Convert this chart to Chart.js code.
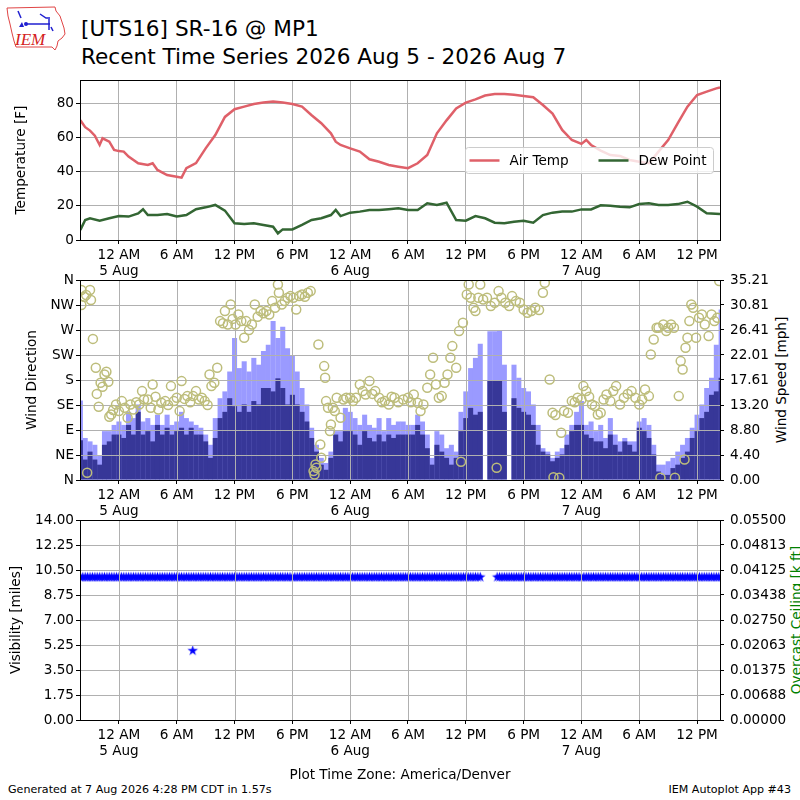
<!DOCTYPE html>
<html>
<head>
<meta charset="utf-8">
<script src="https://cdn.jsdelivr.net/npm/chart.js@4.4.1/dist/chart.umd.min.js"></script>
<style>
html,body{margin:0;padding:0;background:#fff;}
#page{position:relative;width:800px;height:800px;overflow:hidden;background:#fff;font-family:'DejaVu Sans',sans-serif;color:#000;}
canvas{position:absolute;left:0;top:0;}
.txt{position:absolute;white-space:nowrap;line-height:1;}
.rot{position:absolute;white-space:nowrap;line-height:1;transform:translate(-50%,-50%) rotate(-90deg);}
</style>
</head>
<body>
<div id="page">
<svg style="position:absolute;left:0;top:0" width="80" height="60" viewBox="0 0 80 60">
  <path d="M7,8 L55,7 L56,11 L60,16 L62,22 L64,28 L65,34 L62,38 L58,41 L57,46 L55,50 L52,47 L16,47 L14,41 L12,33 L10,24 L8,16 Z" fill="none" stroke="#e04545" stroke-width="1"/>
  <text x="15" y="45" font-family="'Liberation Serif','DejaVu Serif',serif" font-style="italic" font-size="17" fill="#d42020">IEM</text>
  <g stroke="#1f1fd0" stroke-width="1.5" fill="none">
    <path d="M18,11 L21,18"/>
    <path d="M25,24 L50,24"/>
    <path d="M40,14 L46,18 L50,18"/>
    <path d="M49,19 L49,30"/>
    <path d="M51,27 L53,31"/>
  </g>
  <path d="M19,27 L22,22 L24,27 Z" fill="#1f1fd0"/>
  <circle cx="26" cy="24" r="2" fill="#1f1fd0"/>
</svg>
<div class="txt" style="left:81px;top:17.7px;font-size:21.6px">[UTS16] SR-16 @ MP1</div>
<div class="txt" style="left:81px;top:45.7px;font-size:21.6px">Recent Time Series 2026 Aug 5 - 2026 Aug 7</div>
<div class="rot" style="left:782px;top:380px;font-size:13.6px">Wind Speed [mph]</div>
<div class="rot" style="left:797px;top:620px;font-size:13.6px;color:#008000">Overcast Ceiling [k ft]</div>
<div class="txt" style="left:8px;top:783.6px;font-size:11.1px">Generated at 7 Aug 2026 4:28 PM CDT in 1.57s</div>
<div class="txt" style="right:9px;top:783.6px;font-size:11.1px">IEM Autoplot App #43</div>
<canvas id="cTemp" width="800" height="800"></canvas>
<canvas id="cWind" width="800" height="800"></canvas>
<canvas id="cVis" width="800" height="800"></canvas>
</div>
<script>
// ---------------- DATA ----------------
// hours relative to 12 AM 5 Aug (America/Denver)
const X_MIN = -4.04, X_MAX = 62.38;
const xTickHours = [0, 6, 12, 18, 24, 30, 36, 42, 48, 54, 60];
const xTickLabels = [['12 AM','5 Aug'],'6 AM','12 PM','6 PM',['12 AM','6 Aug'],'6 AM','12 PM','6 PM',['12 AM','7 Aug'],'6 AM','12 PM'];

const tempTicks = [0, 20, 40, 60, 80];
const tempTickLabels = ['0', '20', '40', '60', '80'];
const tempHours = [-4,-3.5,-3,-2.5,-2,-1.7,-1,-0.5,0,0.5,1,2,3,3.5,4,5,6,6.5,7,8,9,10,11,12,13,14,15,16,17,18,19,20,21,22,22.5,23,24,25,26,27,28,29,30,31,32,33,34,35,36,37,38,39,40,41,42,43,44,45,46,47,48,48.5,49,50,51,52,53,54,55,56,57,58,59,60,61,62,62.38];
const airTemp = [70,66,64,61,55.6,59.5,57.5,52.7,52,51.7,48.8,44.9,43.9,44.9,41,38,37,36.5,42,45,53.6,61.4,72,76.5,78,79.6,80.4,81,80.4,79.6,78,73,68.3,62.4,57.5,55.6,53.6,51.7,47.2,45.8,43.9,42.9,42,44.9,49.7,62.4,70,77,80.4,82.3,84.5,85.4,85.4,85,84.3,83.5,79,74,64.4,58.5,56.2,58.5,55.6,52.3,49.7,49.2,46.8,45.8,44.9,51.7,58.5,68.3,78,84.8,86.8,88.7,89.3];
const dewHours = [-4,-3.5,-3,-2,-1,0,1,2,2.5,3,4,5,6,7,8,9,10,11,12,13,14,15,16,16.5,17,18,19,20,21,22,22.5,23,24,25,26,27,28,29,30,31,32,33,34,35,36,37,38,39,40,41,42,43,44,45,46,47,48,49,50,51,52,53,54,55,56,57,58,59,60,61,62.38];
const dewPoint = [5.9,11.7,12.7,11.3,12.7,14,13.7,15.6,18,14.6,14.6,15.2,13.7,14.6,18,19.1,20.5,17.2,9.8,9.4,9.8,8.8,7.8,3.9,6.2,6.2,8.8,11.7,12.7,14.6,17.6,14,16,16.6,17.6,17.6,18,18.5,17.6,17.6,21.5,20.5,21.8,11.7,11.3,14,12.7,10.1,9.8,10.7,11.3,10.1,14.6,16,16.6,16.6,17.9,17.9,20.3,20.1,19.5,19.1,21,21.5,20.5,20.5,21,22.4,19.5,15.6,15.2];

// wind observations on a half-hour grid starting at WIND_START
const WIND_START = -4, WIND_STEP = 0.5;
const windSpeed = [
 7.0,3.6,5.0,3.6,2.7,6.2,6.8,8.0,8.0,7.4,
 9.7,8.0,12.0,8.0,8.6,6.8,9.7,8.0,9.2,8.0,
 8.6,9.2,8.0,9.2,8.0,8.0,6.8,3.9,7.4,10.9,
 12.0,14.4,13.0,12.0,13.3,12.0,13.9,13.3,16.2,16.2,
 15.6,17.9,16.2,13.3,15.0,13.3,12.0,10.3,7.4,5.0,
 2.7,1.8,3.9,8.0,6.8,8.6,8.6,8.0,6.2,8.6,
 7.4,6.8,8.0,6.8,8.0,7.4,8.0,8.0,8.0,8.0,
 9.7,8.0,5.6,2.7,6.2,5.0,3.9,2.7,3.9,8.6,
 10.9,12.7,11.5,12.0,null,17.5,17.5,17.5,12.0,null,
 14.4,12.7,12.0,11.5,9.7,6.2,5.0,4.5,3.3,3.9,
 4.5,6.2,8.6,9.7,9.7,8.0,7.4,6.8,6.8,5.6,
 8.0,6.2,5.0,6.8,6.2,5.0,9.2,8.6,7.4,4.5,
 1.5,0.9,0.9,2.1,2.7,3.9,5.0,7.4,8.6,10.9,
 12.0,15.0,15.6,18.0];
const windGust = [
 14.0,7.4,6.8,6.2,4.4,8.6,8.6,9.7,10.3,9.7,
 12.0,10.9,13.3,10.3,10.9,9.7,11.5,9.7,11.5,9.7,
 10.3,12.0,10.9,10.3,9.7,9.2,8.0,6.2,10.9,14.4,
 15.6,19.1,25.0,19.7,20.9,19.1,21.5,20.3,22.7,23.8,
 28.0,25.0,27.0,23.2,22.0,19.1,16.2,13.3,9.2,6.2,
 3.9,3.0,5.0,8.6,8.6,12.7,12.0,10.9,9.7,11.5,
 9.7,9.2,10.9,8.6,10.9,9.7,10.3,10.3,9.7,9.7,
 11.5,10.3,8.0,3.9,8.6,8.0,5.6,6.2,5.0,12.0,
 15.6,19.7,21.5,24.0,null,26.2,26.2,26.4,20.3,null,
 20.3,18.0,16.2,15.6,13.3,9.7,5.6,5.0,3.9,5.0,
 5.6,8.0,9.7,12.0,13.9,9.7,10.3,8.6,9.7,7.4,
 10.9,8.0,6.8,7.4,6.8,6.8,10.3,10.9,9.7,6.2,
 2.7,2.7,3.3,3.9,5.0,6.2,7.4,9.2,11.5,13.3,
 16.2,18.0,23.8,30.0];
const windSpeedTicks = [0, 4.40, 8.80, 13.20, 17.61, 22.01, 26.41, 30.81, 35.21];
const windSpeedTickLabels = ['0.00','4.40','8.80','13.20','17.61','22.01','26.41','30.81','35.21'];
const dirTicks = [0, 45, 90, 135, 180, 225, 270, 315, 360];
const dirTickLabels = ['N','NE','E','SE','S','SW','W','NW','N'];
const dirHours = [-3.9,-3.9,-3.6,-3.4,-3.3,-3.0,-2.9,-2.7,-2.4,-2.3,
 -2.1,-1.9,-1.7,-1.5,-1.3,-1.1,-1.0,-0.8,-0.6,-0.3,
 0.0,0.3,0.6,0.9,1.2,1.5,1.8,2.1,2.4,2.6,
 3.0,3.3,3.5,3.8,4.1,4.4,4.8,5.1,5.4,5.7,
 6.0,6.3,6.5,6.8,7.1,7.4,7.7,8.0,8.3,8.6,
 8.9,9.2,9.4,9.6,9.9,10.2,10.5,10.8,11.0,11.3,
 11.6,11.8,12.1,12.4,12.7,13.0,13.2,13.5,13.8,14.1,
 14.4,14.7,15.0,15.3,15.6,15.9,16.2,16.5,16.6,16.9,
 17.2,17.5,17.8,18.1,18.4,18.7,19.0,19.3,19.6,19.9,
 20.2,20.3,20.4,20.5,20.7,20.9,21.0,21.3,21.4,21.5,
 21.7,21.9,22.0,22.2,22.4,22.6,23.0,23.3,23.6,24.0,
 24.3,24.6,25.0,25.3,25.6,26.0,26.3,26.6,27.0,27.3,
 27.6,28.0,28.3,28.6,29.0,29.5,30.0,30.3,30.6,31.0,
 31.3,31.6,32.0,32.3,32.6,32.9,33.2,33.5,33.8,34.1,
 34.4,34.6,35.0,35.3,35.5,35.7,36.1,36.3,36.5,36.8,
 37.0,37.3,37.5,37.8,38.2,38.6,39.0,39.2,39.4,39.7,
 40.1,40.5,40.8,41.2,41.6,42.0,42.4,42.8,43.2,43.6,
 44.0,44.2,44.7,45.0,45.1,45.3,45.7,45.9,46.2,46.6,
 47.0,47.3,47.6,48.0,48.2,48.5,48.8,49.1,49.4,49.7,
 50.0,50.3,50.6,51.0,51.3,51.6,52.0,52.4,52.8,53.2,
 53.6,54.0,54.3,54.6,55.0,55.2,55.5,55.8,56.0,56.2,
 56.5,56.8,57.0,57.3,57.6,57.7,58.1,58.3,58.5,58.7,
 58.8,59.0,59.2,59.4,59.6,59.9,60.2,60.5,60.8,61.2,
 61.5,61.8,62.1,62.3];
const dirDegrees = [342,315,330,333,13,342,324,254,202,155,
 132,175,168,190,195,177,114,118,126,136,
 124,142,130,112,136,127,140,136,160,145,
 145,130,172,150,127,139,142,135,169,142,
 148,124,178,146,151,140,151,160,145,148,
 142,135,190,169,175,202,286,282,304,280,
 316,290,280,298,286,256,286,270,280,316,
 294,304,300,304,298,322,310,352,337,316,
 322,328,331,328,307,331,334,330,337,340,
 16,10,28,22,244,64,40,205,184,142,
 130,88,100,130,124,148,112,145,148,148,
 142,148,172,160,154,178,155,160,148,140,
 142,136,150,148,140,145,148,140,154,139,
 124,136,166,190,220,172,148,151,175,190,
 220,241,202,268,33,283,334,352,328,310,
 304,328,352,325,328,313,319,22,340,328,
 319,313,331,322,319,307,301,304,310,306,
 337,355,181,121,5,117,4,85,124,121,
 142,140,148,145,169,160,150,136,133,118,
 121,145,154,142,160,169,136,148,155,160,
 148,136,145,163,151,226,253,274,274,4,
 280,268,274,280,274,4,151,214,199,37,
 238,256,286,316,310,256,292,298,280,259,
 298,286,292,358];

// visibility [miles] on a quarter-hour grid starting at VIS_START
const VIS_START = -4, VIS_STEP = 0.25;
const visValues = [
 10,10,10,10,10,10,10,10,10,10,
 10,10,10,10,10,10,10,10,10,10,
 10,10,10,10,10,10,10,10,10,10,
 10,10,10,10,10,10,10,10,10,10,
 10,10,10,10,10,10,10,10,10,10,
 10,10,10,10,10,10,10,10,10,10,
 10,10,10,10,10,10,10,10,10,10,
 10,10,10,10,10,10,10,10,10,10,
 10,10,10,10,10,10,10,10,10,10,
 10,10,10,10,10,10,10,10,10,10,
 10,10,10,10,10,10,10,10,10,10,
 10,10,10,10,10,10,10,10,10,10,
 10,10,10,10,10,10,10,10,10,10,
 10,10,10,10,10,10,10,10,10,10,
 10,10,10,10,10,10,10,10,10,10,
 10,10,10,10,10,10,10,10,10,10,
 10,10,10,10,10,10,10,null,null,null,
 null,null,null,10,10,10,10,10,10,10,
 10,10,10,10,10,10,10,10,10,10,
 10,10,10,10,10,10,10,10,10,10,
 10,10,10,10,10,10,10,10,10,10,
 10,10,10,10,10,10,10,10,10,10,
 10,10,10,10,10,10,10,10,10,10,
 10,10,10,10,10,10,10,10,10,10,
 10,10,10,10,10,10,10,10,10,10,
 10,10,10,10,10,10,10,10,10,10,
 10,10,10,10,10,10,10];
const lowVisHours = [7.66];
const lowVisValues = [4.85];
const visTicks = [0, 1.75, 3.5, 5.25, 7, 8.75, 10.5, 12.25, 14];
const visTickLabels = ['0.00','1.75','3.50','5.25','7.00','8.75','10.50','12.25','14.00'];
const ceilTicks = [0, 0.00688, 0.01375, 0.02063, 0.0275, 0.03438, 0.04125, 0.04813, 0.055];
const ceilTickLabels = ['0.00000','0.00688','0.01375','0.02063','0.02750','0.03438','0.04125','0.04813','0.05500'];

// ---------------- STYLE / HELPERS ----------------
const FONT = {family: "'DejaVu Sans', sans-serif", size: 13.6};
const GRID = '#b0b0b0';
const C_AIR = '#df6069', C_DEW = '#336633';
const C_SPD = '#373798', C_GUST = '#9a9aff', C_DIR = '#bdbd7b', C_VIS = '#0000ff';
Chart.defaults.font.family = FONT.family;
Chart.defaults.font.size = FONT.size;
Chart.defaults.color = '#000';

function xAxis(height, onArea, title, titlePad) {
  return {
    type: 'linear', min: X_MIN, max: X_MAX, offset: false,
    afterBuildTicks: s => { s.ticks = xTickHours.map(v => ({value: v})); },
    afterFit: s => { s.height = height; s.paddingLeft = 0; s.paddingRight = 0; },
    ticks: {autoSkip: false, maxRotation: 0, minRotation: 0, padding: 3, color: '#000', font: FONT,
            callback: (v, i) => xTickLabels[i]},
    grid: {offset: false, color: GRID, lineWidth: 1, tickColor: '#000', tickLength: 4, drawOnChartArea: onArea},
    border: {display: false},
    title: title ? {display: true, text: title, color: '#000', font: FONT, padding: {top: 0, bottom: titlePad}} : {display: false}
  };
}
function yAxis(o) {
  return {
    type: 'linear', position: o.position || 'left', min: o.min, max: o.max,
    afterBuildTicks: s => { s.ticks = o.ticks.map(v => ({value: v})); },
    afterFit: s => { s.width = o.width; s.paddingTop = 0; s.paddingBottom = 0; },
    ticks: {padding: o.pad, color: '#000', font: FONT, callback: (v, i) => o.labels[i]},
    grid: {color: GRID, lineWidth: 1, tickColor: '#000', tickLength: 4, drawOnChartArea: o.onArea},
    border: {display: false},
    title: o.title ? {display: true, text: o.title, color: '#000', font: FONT, padding: {top: o.titlePad, bottom: 0}} : {display: false}
  };
}
function pts(xs, ys) { return xs.map((x, i) => ({x: x, y: ys[i]})); }
function gridPts(start, step, ys) { return ys.map((y, i) => ({x: start + i * step, y: y})); }

const framePlugin = {
  id: 'frame',
  afterDraw(chart) {
    const {ctx, chartArea: a} = chart;
    ctx.save();
    ctx.strokeStyle = '#000'; ctx.lineWidth = 1;
    ctx.strokeRect(a.left + 0.5, a.top + 0.5, a.right - a.left, a.bottom - a.top);
    ctx.restore();
  }
};
function drawGridLines(chart) {
  const {ctx, chartArea: a, scales} = chart;
  ctx.save();
  ctx.beginPath(); ctx.rect(a.left, a.top, a.right - a.left, a.bottom - a.top); ctx.clip();
  ctx.strokeStyle = GRID; ctx.lineWidth = 1;
  ctx.beginPath();
  scales.x.ticks.forEach(t => { const p = Math.round(scales.x.getPixelForValue(t.value)) + 0.5; ctx.moveTo(p, a.top); ctx.lineTo(p, a.bottom); });
  scales.y.ticks.forEach(t => { const p = Math.round(scales.y.getPixelForValue(t.value)) + 0.5; ctx.moveTo(a.left, p); ctx.lineTo(a.right, p); });
  ctx.stroke();
  ctx.restore();
}
const gridOverPlugin = {
  id: 'gridOver',
  afterDatasetDraw(chart, args, opts) { if (opts && opts.afterIndex === args.index) drawGridLines(chart); }
};
const tempLegendPlugin = {
  id: 'tempLegend',
  afterDatasetsDraw(chart) {
    const {ctx, chartArea: a} = chart;
    const ds = chart.data.datasets;
    const w = 248, h = 26, r = 3;
    const x0 = a.right - 7 - w + 0.5, y0 = a.top + 67.5;
    ctx.save();
    ctx.beginPath();
    ctx.moveTo(x0 + r, y0); ctx.lineTo(x0 + w - r, y0); ctx.arcTo(x0 + w, y0, x0 + w, y0 + r, r);
    ctx.lineTo(x0 + w, y0 + h - r); ctx.arcTo(x0 + w, y0 + h, x0 + w - r, y0 + h, r);
    ctx.lineTo(x0 + r, y0 + h); ctx.arcTo(x0, y0 + h, x0, y0 + h - r, r);
    ctx.lineTo(x0, y0 + r); ctx.arcTo(x0, y0, x0 + r, y0, r); ctx.closePath();
    ctx.fillStyle = 'rgba(255,255,255,0.8)'; ctx.fill();
    ctx.strokeStyle = '#cccccc'; ctx.lineWidth = 1; ctx.stroke();
    const cy = y0 + h / 2;
    const items = [{d: ds[0], lx: x0 + 4}, {d: ds[1], lx: x0 + 133}];
    ctx.font = FONT.size + 'px ' + FONT.family;
    ctx.textBaseline = 'middle'; ctx.textAlign = 'left'; ctx.fillStyle = '#000';
    items.forEach(it => {
      ctx.strokeStyle = it.d.borderColor; ctx.lineWidth = 2.5;
      ctx.beginPath(); ctx.moveTo(it.lx, cy); ctx.lineTo(it.lx + 30, cy); ctx.stroke();
      ctx.fillText(it.d.label, it.lx + 40, cy + 0.5);
    });
    ctx.restore();
  }
};

// star marker image
function makeStar(R, color) {
  const c = document.createElement('canvas');
  const S = Math.ceil(2 * R + 2);
  c.width = S; c.height = S;
  const g = c.getContext('2d');
  const cx = S / 2, cy = S / 2, ri = R * 0.382;
  g.beginPath();
  for (let k = 0; k < 10; k++) {
    const ang = -Math.PI / 2 + k * Math.PI / 5;
    const rr = (k % 2 === 0) ? R : ri;
    const px = cx + rr * Math.cos(ang), py = cy + rr * Math.sin(ang);
    if (k === 0) g.moveTo(px, py); else g.lineTo(px, py);
  }
  g.closePath();
  g.fillStyle = color; g.fill();
  return c;
}
const starImg = makeStar(5.5, C_VIS);

// ---------------- TEMPERATURE ----------------
new Chart(document.getElementById('cTemp'), {
  type: 'line',
  data: {datasets: [
    {label: 'Air Temp', data: pts(tempHours, airTemp), borderColor: C_AIR, borderWidth: 2.5, pointRadius: 0, tension: 0, fill: false},
    {label: 'Dew Point', data: pts(dewHours, dewPoint), borderColor: C_DEW, borderWidth: 2.5, pointRadius: 0, tension: 0, fill: false}
  ]},
  options: {
    responsive: false, animation: false, events: [],
    layout: {padding: {top: 80, left: 0, right: 80, bottom: 520}},
    plugins: {legend: {display: false}, tooltip: {enabled: false}},
    scales: {
      x: xAxis(40, true),
      y: yAxis({min: 0, max: 93.6, ticks: tempTicks, labels: tempTickLabels, width: 80, pad: 2, onArea: true,
                title: 'Temperature [F]', titlePad: 13.8})
    }
  },
  plugins: [framePlugin, tempLegendPlugin]
});

// ---------------- WIND ----------------
new Chart(document.getElementById('cWind'), {
  type: 'bar',
  data: {datasets: [
    {type: 'line', label: 'Wind Direction', data: pts(dirHours, dirDegrees), yAxisID: 'y', showLine: false,
     pointStyle: 'circle', pointRadius: 4.5, pointBorderWidth: 1.5, pointBackgroundColor: 'rgba(0,0,0,0)',
     pointBorderColor: C_DIR, borderColor: C_DIR, order: 0},
    {type: 'bar', label: 'Wind Speed', data: gridPts(WIND_START, WIND_STEP, windSpeed), yAxisID: 'y2',
     backgroundColor: C_SPD, borderWidth: 0, grouped: false, barPercentage: 1.05, categoryPercentage: 1, order: 1},
    {type: 'bar', label: 'Wind Gust', data: gridPts(WIND_START, WIND_STEP, windGust), yAxisID: 'y2',
     backgroundColor: C_GUST, borderWidth: 0, grouped: false, barPercentage: 1.05, categoryPercentage: 1, order: 2}
  ]},
  options: {
    responsive: false, animation: false, events: [],
    layout: {padding: {top: 280, left: 0, right: 0, bottom: 280}},
    plugins: {legend: {display: false}, tooltip: {enabled: false}, gridOver: {afterIndex: 1}},
    scales: {
      x: xAxis(40, false),
      y: yAxis({min: 0, max: 360, ticks: dirTicks, labels: dirTickLabels, width: 80, pad: 2, onArea: false,
                title: 'Wind Direction', titlePad: 24}),
      y2: yAxis({position: 'right', min: 0, max: 35.21, ticks: windSpeedTicks, labels: windSpeedTickLabels,
                 width: 80, pad: 6, onArea: false})
    }
  },
  plugins: [gridOverPlugin, framePlugin]
});

// ---------------- VISIBILITY ----------------
new Chart(document.getElementById('cVis'), {
  type: 'scatter',
  data: {datasets: [
    {label: 'Visibility', data: gridPts(VIS_START, VIS_STEP, visValues).concat(pts(lowVisHours, lowVisValues)),
     yAxisID: 'y', pointStyle: starImg, pointRadius: 5, borderWidth: 0, order: 0}
  ]},
  options: {
    responsive: false, animation: false, events: [],
    layout: {padding: {top: 520, left: 0, right: 0, bottom: 10}},
    plugins: {legend: {display: false}, tooltip: {enabled: false}, gridOver: {afterIndex: 0}},
    scales: {
      x: xAxis(70, false, 'Plot Time Zone: America/Denver', 6.8),
      y: yAxis({min: 0, max: 14, ticks: visTicks, labels: visTickLabels, width: 80, pad: 2, onArea: false,
                title: 'Visibility [miles]', titlePad: 8.8}),
      y2: yAxis({position: 'right', min: 0, max: 0.055, ticks: ceilTicks, labels: ceilTickLabels,
                 width: 80, pad: 6, onArea: false})
    }
  },
  plugins: [gridOverPlugin, framePlugin]
});
</script>
</body>
</html>
